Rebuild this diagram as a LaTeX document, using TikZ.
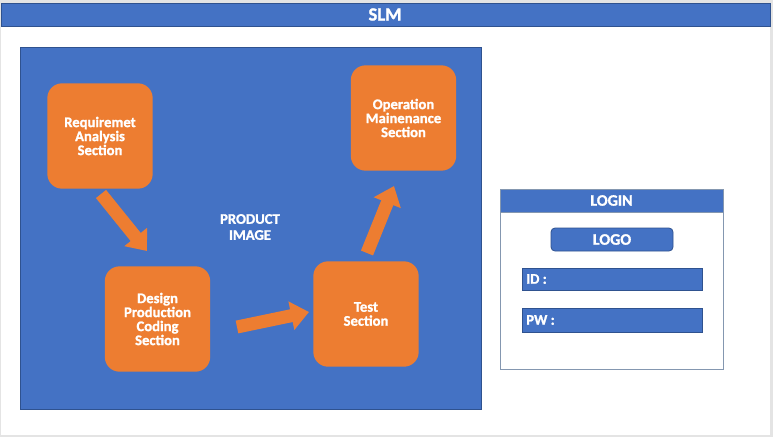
\documentclass[tikz,border=0pt]{standalone}
\usepackage{fontspec}
\setmainfont{Carlito}[BoldFeatures={FakeBold=1.2}]
\usepackage{tikz}
\usetikzlibrary{positioning, arrows.meta}
\definecolor{slmblue}{HTML}{4472C4}
\definecolor{slmedge}{HTML}{2F528F}
\definecolor{slmorange}{HTML}{ED7D31}
\definecolor{slmgray}{HTML}{E4E4E4}
\definecolor{slmframe}{HTML}{8497B0}

\begin{document}
\begin{tikzpicture}[x=0.75pt, y=-0.75pt,
  section/.style={fill=slmorange, rounded corners=11pt, text=white,
    font=\bfseries\fontsize{11}{10.5}\selectfont, align=center,
    minimum width=79pt, minimum height=79pt, inner sep=0pt},
  blockarrow/.style={slmorange, line width=9.75pt,
    -{Triangle[length=13.5pt,width=21pt]}},
  label/.style={text=white, font=\bfseries\fontsize{#1}{#1}\selectfont, inner sep=0pt},
  label/.default=11,
  field/.style={fill=slmblue, draw=slmedge, line width=0.6pt}]
% page frame
\fill[slmgray] (0,0) rectangle (773,437);
\fill[white] (1,3) rectangle (770,435);
\useasboundingbox (0,0) rectangle (773,437);

% title bar
\draw[field] (1,3) rectangle (770,26);
\node[label=14] (title) at (385,14.5) {SLM};

% product image panel
\draw[field] (20,47) rectangle (481,409);
\node[label, align=center] (prod) at (250,227) {PRODUCT\\[1pt]IMAGE};

\node[section] (req)  at (100,136)   {Requiremet\\Analysis\\Section};
\node[section] (des)  at (157.5,319) {Design\\Production\\Coding\\Section};
\node[section] (test) at (366,314)   {Test\\Section};
\node[section] (oper) at (403.5,118) {Operation\\Mainenance\\Section};

% block arrows
\coordinate (a1s) at (101,194);
\coordinate (a1e) at (147,251);
\coordinate (a2s) at (237,327);
\coordinate (a2e) at (309,312);
\coordinate (a3s) at (367,253);
\coordinate (a3e) at (394,186);
\draw[blockarrow] (a1s) -- (a1e);
\draw[blockarrow] (a2s) -- (a2e);
\draw[blockarrow] (a3s) -- (a3e);

% login panel
\draw[fill=white, draw=slmframe, line width=0.6pt] (500,189) rectangle (723,369);
\draw[fill=slmblue, draw=slmframe, line width=0.6pt] (500,189) rectangle (723,212);
\node[label=12] (login) at (611.5,200.5) {LOGIN};
\draw[field, rounded corners=3pt] (551,228) rectangle (673,251);
\node[label=12] (logo) at (612,239.5) {LOGO};
\draw[field] (522,268) rectangle (702,290);
\node[label=11, anchor=west] (id) at (526,279) {ID :};
\draw[field] (522,308) rectangle (702,332);
\node[label=11, anchor=west] (pw) at (526,320) {PW :};
\end{tikzpicture}
\end{document}
